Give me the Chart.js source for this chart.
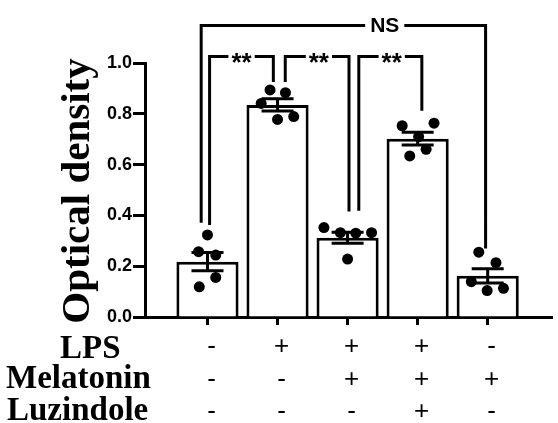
<!DOCTYPE html>
<html>
<head>
<meta charset="utf-8">
<script src="https://cdn.jsdelivr.net/npm/chart.js@4.4.0/dist/chart.umd.min.js"></script>
<style>
html, body { margin: 0; padding: 0; background: #fff; }
</style>
</head>
<body>
<canvas id="chart" width="558" height="423"></canvas>
<script>
// groups (left to right)
const groups = ['Control', 'LPS', 'LPS+Mel', 'LPS+Mel+Luz', 'Mel'];
const means = [0.218, 0.835, 0.312, 0.702, 0.162];
const sems = [0.036, 0.024, 0.022, 0.025, 0.028];

// individual points and their horizontal jitter (in group units)
const dotValues = [
  [0.323, 0.257, 0.244, 0.156, 0.119],
  [0.894, 0.883, 0.841, 0.778, 0.789],
  [0.352, 0.332, 0.330, 0.332, 0.228],
  [0.753, 0.763, 0.710, 0.660, 0.634],
  [0.255, 0.214, 0.139, 0.104, 0.113]
];
const dotJitter = [
  [0, -0.127, 0.118, 0.118, -0.117],
  [-0.107, 0.113, -0.234, 0, 0.231],
  [-0.338, -0.103, 0.117, 0.342, 0],
  [-0.221, 0.234, 0.014, 0.121, -0.113],
  [-0.127, 0.118, -0.234, -0.008, 0.225]
];

const yTicks = [0, 0.2, 0.4, 0.6, 0.8, 1.0];

// treatment table under the axis
const rowLabels = ['LPS', 'Melatonin', 'Luzindole'];
const lps = ['-', '+', '+', '+', '-'];
const melatonin = ['-', '-', '+', '+', '+'];
const luzindole = ['-', '-', '-', '+', '-'];

// significance brackets
const brFrom = [0, 1, 2, 0];
const brTo = [1, 2, 3, 4];
const brFromOff = [0.03, 0.11, 0.16, -0.09];
const brToOff = [-0.06, 0.02, 0.06, -0.03];
const brY = [1.026, 1.026, 1.026, 1.148];
const brFromEnd = [0.362, 0.925, 0.418, 0.371];
const brToEnd = [0.925, 0.415, 0.812, 0.27];
const brLabels = ['**', '**', '**', 'NS'];
const brLabelX = [0.486, 1.59, 2.63, 2.53];

const dots = [];
dotValues.forEach((vals, i) => {
  vals.forEach((v, j) => dots.push({ x: i + dotJitter[i][j], y: v }));
});

const extras = {
  id: 'extras',
  afterDatasetsDraw(chart) {
    const ctx = chart.ctx;
    const xs = chart.scales.x, ys = chart.scales.y;
    ctx.save();
    ctx.strokeStyle = '#000';
    ctx.fillStyle = '#000';
    ctx.lineWidth = 3;
    ctx.lineCap = 'butt';
    ctx.lineJoin = 'miter';

    // error bars
    means.forEach((m, i) => {
      const x = xs.getPixelForValue(i);
      const t = ys.getPixelForValue(m + sems[i]);
      const b = ys.getPixelForValue(m - sems[i]);
      ctx.beginPath();
      ctx.moveTo(x, t); ctx.lineTo(x, b);
      ctx.moveTo(x - 16, t); ctx.lineTo(x + 16, t);
      ctx.moveTo(x - 16, b); ctx.lineTo(x + 16, b);
      ctx.stroke();
    });

    // brackets
    brLabels.forEach((lab, k) => {
      const xl = xs.getPixelForValue(brFrom[k] + brFromOff[k]);
      const xr = xs.getPixelForValue(brTo[k] + brToOff[k]);
      const yh = ys.getPixelForValue(brY[k]);
      const yl = ys.getPixelForValue(brFromEnd[k]);
      const yr = ys.getPixelForValue(brToEnd[k]);
      const lx = xs.getPixelForValue(brLabelX[k]);
      const isNS = lab === 'NS';
      ctx.font = isNS ? 'bold 21px "Liberation Sans", Arial' : 'bold 26px "Liberation Sans", Arial';
      const w = ctx.measureText(lab).width;
      const gap = w / 2 + (isNS ? 5 : 3);
      ctx.beginPath();
      ctx.moveTo(xl, yl); ctx.lineTo(xl, yh); ctx.lineTo(lx - gap, yh);
      ctx.moveTo(lx + gap, yh); ctx.lineTo(xr, yh); ctx.lineTo(xr, yr);
      ctx.stroke();
      ctx.textAlign = 'center';
      if (isNS) {
        ctx.textBaseline = 'middle';
        ctx.fillText(lab, lx, yh + 1);
      } else {
        ctx.textBaseline = 'alphabetic';
        ctx.fillText(lab, lx, yh + 15);
      }
    });

    // y axis title
    ctx.save();
    ctx.translate(89, 191);
    ctx.rotate(-Math.PI / 2);
    ctx.font = 'bold 41px "Liberation Serif", "Times New Roman", serif';
    ctx.textAlign = 'center';
    ctx.textBaseline = 'alphabetic';
    ctx.fillText('Optical density', 0, 0);
    ctx.restore();

    // treatment table
    ctx.font = 'bold 33px "Liberation Serif", "Times New Roman", serif';
    ctx.textAlign = 'left';
    ctx.textBaseline = 'alphabetic';
    ctx.fillText(rowLabels[0], 60, 358);
    ctx.fillText(rowLabels[1], 6, 388);
    ctx.fillText(rowLabels[2], 7, 420);

    ctx.font = '26px "Liberation Sans", Arial';
    ctx.textAlign = 'center';
    ctx.textBaseline = 'middle';
    const rowsY = [347, 380, 412];
    [lps, melatonin, luzindole].forEach((row, r) => {
      row.forEach((s, i) => {
        ctx.fillText(s, xs.getPixelForValue(i) + 4, rowsY[r]);
      });
    });
    ctx.restore();
  }
};

new Chart(document.getElementById('chart'), {
  type: 'bar',
  data: {
    datasets: [
      {
        type: 'scatter',
        data: dots,
        pointRadius: 5.5,
        pointBackgroundColor: '#000',
        pointBorderWidth: 0,
        order: 1
      },
      {
        type: 'bar',
        data: means.map((m, i) => ({ x: i, y: m })),
        backgroundColor: '#fff',
        borderColor: '#000',
        borderWidth: 3,
        barPercentage: 0.887,
        categoryPercentage: 1,
        order: 2
      }
    ]
  },
  options: {
    responsive: false,
    animation: false,
    layout: { padding: { top: 63, right: 0, left: 0, bottom: 0 } },
    plugins: { legend: { display: false }, tooltip: { enabled: false } },
    scales: {
      x: {
        type: 'linear',
        min: -0.892,
        max: 4.925,
        offset: false,
        afterBuildTicks: s => { s.ticks = groups.map((g, i) => ({ value: i })); },
        ticks: { display: false },
        grid: { offset: false, drawOnChartArea: false, tickLength: 8, tickWidth: 3, tickColor: '#000' },
        border: { color: '#000', width: 3 },
        afterFit: s => { s.height = 106; }
      },
      y: {
        min: 0,
        max: 1,
        afterBuildTicks: s => { s.ticks = yTicks.map(v => ({ value: v })); },
        ticks: {
          callback: v => v.toFixed(1),
          font: { family: '"Liberation Sans", Arial', weight: 'bold', size: 18 },
          color: '#000',
          padding: 1
        },
        grid: { drawOnChartArea: false, tickLength: 12, tickWidth: 3, tickColor: '#000' },
        border: { color: '#000', width: 3 },
        afterFit: s => { s.width = 145; }
      }
    }
  },
  plugins: [extras]
});
</script>
</body>
</html>
